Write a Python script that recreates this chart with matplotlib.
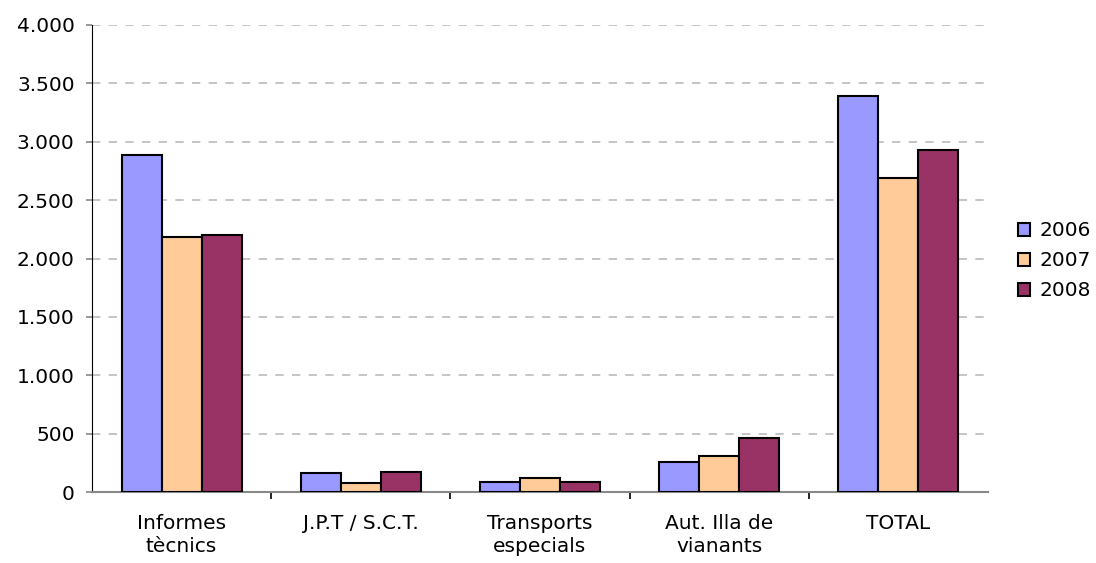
import matplotlib
matplotlib.use("Agg")
import matplotlib.pyplot as plt
import matplotlib.ticker as ticker
import numpy as np

# Data
CATEGORIES = ["Informes\ntècnics", "J.P.T / S.C.T.", "Transports\nespecials",
              "Aut. Illa de\nvianants", "TOTAL"]
YEARS = ["2006", "2007", "2008"]
V2006 = [2884, 160, 88, 260, 3392]
V2007 = [2184, 75, 123, 311, 2693]
V2008 = [2201, 174, 88, 465, 2928]
COLOURS = ["#9999FF", "#FFCC99", "#993366"]

plt.rcParams["font.family"] = ["DejaVu Sans"]
FS = 14.5

fig = plt.figure(figsize=(10.96, 5.63), dpi=100)
ax = fig.add_axes([92 / 1096, 71 / 563, 896 / 1096, 467 / 563])

x = np.arange(len(CATEGORIES))
width = 0.223
for i, (vals, year, col) in enumerate(zip([V2006, V2007, V2008], YEARS, COLOURS)):
    ax.bar(x + (i - 1) * width, vals, width, color=col, edgecolor="black",
           linewidth=1.5, label=year, zorder=3)

ax.set_xlim(-0.5, len(CATEGORIES) - 0.5)
ax.set_ylim(0, 4000)
ax.set_yticks(np.arange(0, 4001, 500))
ax.yaxis.set_major_formatter(
    ticker.FuncFormatter(lambda v, p: f"{int(v):,}".replace(",", ".")))
ax.tick_params(axis="y", labelsize=FS, length=4.5, width=1.2, color="#888888",
               direction="out", pad=8)

ax.set_xticks(x)
ax.set_xticklabels(CATEGORIES, fontsize=FS, linespacing=1.25)
ax.set_xticks(np.arange(0.5, len(CATEGORIES) - 0.5, 1), minor=True)
ax.tick_params(axis="x", which="major", length=0, pad=16)
ax.tick_params(axis="x", which="minor", length=5, width=1.2, direction="out",
               color="black")

ax.grid(axis="y", color="#BBBBBB", linestyle=(0, (5, 5)), linewidth=1.2, zorder=0)
ax.spines["top"].set_visible(False)
ax.spines["right"].set_visible(False)
ax.spines["left"].set_color("black")
ax.spines["bottom"].set_color("#888888")
ax.spines["bottom"].set_linewidth(1.5)

ax.legend(loc="center left", bbox_to_anchor=(1.022, 0.495), frameon=False,
          fontsize=FS, handlelength=0.6, handleheight=0.6, handletextpad=0.5,
          labelspacing=0.55, borderpad=0)

fig.savefig("out.png", dpi=100)
